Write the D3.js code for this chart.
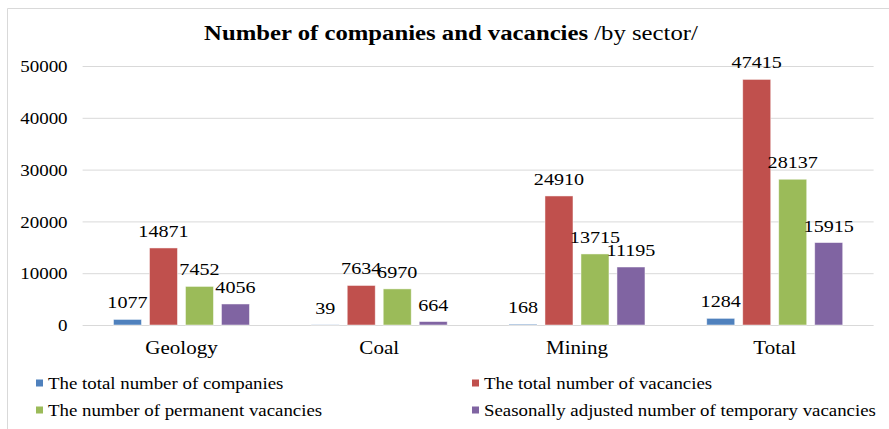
<!DOCTYPE html>
<html>
<head>
<meta charset="utf-8">
<script src="https://cdn.jsdelivr.net/npm/d3@7"></script>
<style>
  body { margin: 0; background: #fff; }
  text { font-family: "Liberation Serif", "Times New Roman", serif; fill: #000; }
</style>
</head>
<body>
<div id="chart"></div>
<script>
// Data
const categories = ['Geology', 'Coal', 'Mining', 'Total'];
const seriesNames = [
  'The total number of companies',
  'The total number of vacancies',
  'The number of permanent vacancies',
  'Seasonally adjusted number of temporary vacancies'
];
const companies = [1077, 39, 168, 1284];
const vacancies = [14871, 7634, 24910, 47415];
const permanent = [7452, 6970, 13715, 28137];
const temporary = [4056, 664, 11195, 15915];
const yTicks = [0, 10000, 20000, 30000, 40000, 50000];

const seriesValues = [companies, vacancies, permanent, temporary];
const colors = ['#4F81BD', '#C0504D', '#9BBB59', '#8064A2'];

// text in the reference is a bit wider than normal Times
const SX = 1.15;

// Set up dimensions
const W = 889, H = 429;
const margin = { top: 66, right: 15.4, bottom: 104, left: 82.6 };
const width = W - margin.left - margin.right;
const height = H - margin.top - margin.bottom;

const svg = d3.select('#chart')
  .append('svg')
  .attr('width', W)
  .attr('height', H);

// outer frame (top and left edge visible)
svg.append('path')
  .attr('d', `M7.5,${H} V8.5 H${W}`)
  .attr('fill', 'none')
  .attr('stroke', '#d9d9d9')
  .attr('stroke-width', 1);

// Title
const title = svg.append('text')
  .attr('transform', `translate(451,40) scale(${SX},1)`)
  .attr('text-anchor', 'middle')
  .style('font-size', '21.5px');
title.append('tspan').style('font-weight', 'bold').text('Number of companies and vacancies');
title.append('tspan').text(' /by sector/');

const chartArea = svg.append('g')
  .attr('transform', `translate(${margin.left},${margin.top})`);

// Scales
const x0 = d3.scaleBand()
  .domain(categories)
  .range([0, width]);

const x1 = d3.scaleBand()
  .domain(d3.range(seriesNames.length))
  .range([0, x0.bandwidth()])
  .paddingInner(0.222)
  .paddingOuter(0.858);

const y = d3.scaleLinear()
  .domain([0, 50000])
  .range([height, 0]);

// Y axis with gridlines
const yAxis = chartArea.append('g')
  .attr('class', 'axis y-axis')
  .call(d3.axisLeft(y).tickValues(yTicks).tickSize(-width).tickFormat(d3.format('d')));
yAxis.select('.domain').remove();
yAxis.selectAll('.tick line').attr('stroke', '#d9d9d9');
yAxis.selectAll('.tick text')
  .attr('x', -15 / SX)
  .attr('dy', '0.35em')
  .attr('transform', `scale(${SX},1)`)
  .style('font-size', '16.5px');

// X axis
const xAxis = chartArea.append('g')
  .attr('class', 'axis x-axis')
  .attr('transform', `translate(0,${height})`)
  .call(d3.axisBottom(x0).tickSize(0).tickPadding(0));
xAxis.select('.domain').remove();
xAxis.selectAll('.tick text')
  .attr('y', 0)
  .attr('dy', 29)
  .attr('transform', `scale(${SX},1)`)
  .style('font-size', '18.3px');

// Bars
const groups = chartArea.selectAll('.group')
  .data(categories)
  .join('g')
  .attr('class', 'group')
  .attr('transform', d => `translate(${x0(d)},0)`);

groups.selectAll('rect')
  .data((c, ci) => seriesValues.map((vals, si) => ({ si, v: vals[ci] })))
  .join('rect')
  .attr('x', d => x1(d.si))
  .attr('y', d => y(d.v))
  .attr('width', x1.bandwidth())
  .attr('height', d => height - y(d.v))
  .attr('fill', d => colors[d.si])
  .attr('stroke', 'rgba(255,255,255,0.6)')
  .attr('stroke-width', 0.8);

// Value labels
groups.selectAll('.val')
  .data((c, ci) => seriesValues.map((vals, si) => ({ si, v: vals[ci] })))
  .join('text')
  .attr('class', 'val')
  .attr('text-anchor', 'middle')
  .attr('transform', d => `translate(${x1(d.si) + x1.bandwidth() / 2},${y(d.v) - 11}) scale(${SX},1)`)
  .style('font-size', '17.5px')
  .text(d => d.v);

// Legend
const legendPos = [[36, 383], [472, 383], [36, 410], [472, 410]];
const legend = svg.append('g').attr('class', 'legend');
const items = legend.selectAll('g')
  .data(seriesNames)
  .join('g')
  .attr('transform', (d, i) => `translate(${legendPos[i][0]},${legendPos[i][1]})`);
items.append('rect')
  .attr('x', 0)
  .attr('y', -3.5)
  .attr('width', 7)
  .attr('height', 7)
  .attr('fill', (d, i) => colors[i]);
items.append('text')
  .attr('transform', `translate(12,0) scale(${SX},1)`)
  .attr('dy', '0.35em')
  .style('font-size', '16.4px')
  .text(d => d);
</script>
</body>
</html>
